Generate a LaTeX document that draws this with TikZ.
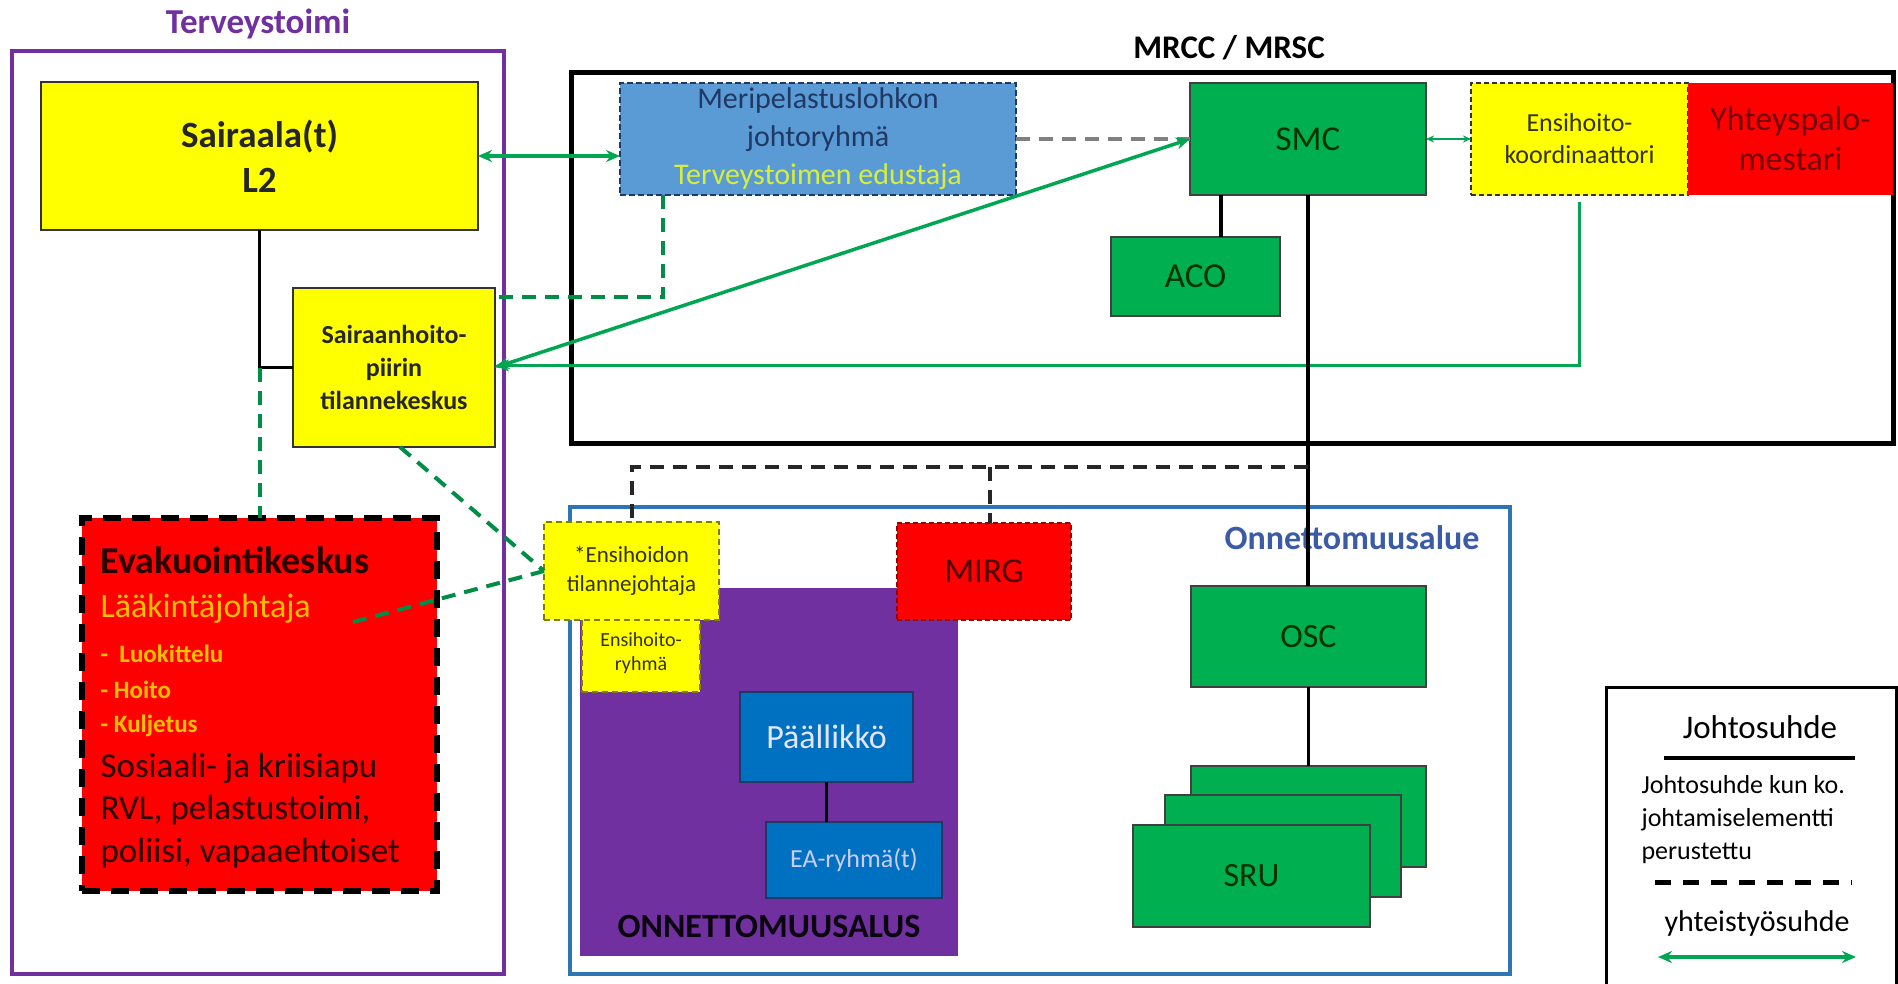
\documentclass[tikz,border=0pt]{standalone}
\usepackage{fontspec}
\setmainfont{Carlito}
\usetikzlibrary{arrows.meta,calc}
\definecolor{purp}{HTML}{7030A0}
\definecolor{yel}{HTML}{FFFF00}
\definecolor{grn}{HTML}{00B050}
\definecolor{gline}{HTML}{00A651}
\definecolor{rd}{HTML}{FF0000}
\definecolor{mblue}{HTML}{5B9BD5}
\definecolor{navy}{HTML}{1F3864}
\definecolor{tyel}{HTML}{D6EE3C}
\definecolor{dblue}{HTML}{0070C0}
\definecolor{oblue}{HTML}{2E75B6}
\definecolor{otext}{HTML}{3B5BA5}
\definecolor{orng}{HTML}{FFC000}
\definecolor{dred}{HTML}{2A0000}
\newcommand\fsz[2]{\fontsize{#1}{#2}\selectfont}
\begin{document}
\begin{tikzpicture}[x=1pt,y=-1pt,
  bx/.style 2 args={minimum width=#1pt, minimum height=#2pt, inner sep=0pt, outer sep=0pt, align=center},
  gbox/.style={fill=grn, draw=black!75, line width=2pt, text=black!80!green},
  ybox/.style={fill=yel, draw=black!80, line width=2pt},
  bluebox/.style={fill=dblue, draw=navy, line width=2pt},
  blk/.style={draw=black, line width=3.5pt},
  bdash/.style={draw=black!85, line width=4pt, dash pattern=on 14pt off 9pt},
  gdash/.style={draw=gline!85!black, line width=4pt, dash pattern=on 14pt off 9pt},
  garrow/.style={draw=gline, line width=3.5pt, arrows={Stealth[length=14pt,width=12pt]-Stealth[length=14pt,width=12pt]}},
  garrowend/.style={draw=gline, line width=3.5pt, arrows={-Stealth[length=14pt,width=12pt]}},
  gsmall/.style={draw=gline, line width=1.5pt, arrows={Stealth[length=8pt,width=7pt]-Stealth[length=8pt,width=7pt]}},
]
\useasboundingbox (0,0) rectangle (1898,984);
\clip (0,0) rectangle (1898,984);
\fill[white] (0,0) rectangle (1898,984);

% ---------- frames ----------
\node[bx={492}{923}, draw=purp, line width=4pt] (terv) at (258,512.5) {};
\node[font=\fsz{35}{38}\bfseries, text=purp] (tervt) at (258,24) {Terveystoimi};
\node[bx={1322}{370}, draw=black, line width=5pt] (mrcc) at (1232,258) {};
\node[font=\fsz{33}{36}\bfseries] (mrcct) at (1229,48) {MRCC / MRSC};
\node[bx={940}{467}, draw=oblue, line width=4pt] (onn) at (1040,740.5) {};
\node[font=\fsz{34}{38}\bfseries, text=otext] (onnt) at (1352,538) {Onnettomuusalue};
\node[bx={378}{368}, fill=purp] (alus) at (769,772) {};
\node[font=\fsz{34}{38}\bfseries, text=black!90!purp] (alust) at (769,926) {ONNETTOMUUSALUS};

% ---------- Terveystoimi ----------
\node[bx={437}{148}, ybox, font=\fsz{37}{45}\bfseries, text=black!85] (sair) at (259.5,156) {Sairaala(t)\\L2};
\node[bx={202}{159}, ybox, font=\fsz{26}{33}\bfseries, text=black!85] (shp) at (394,367.5) {Sairaanhoito-\\piirin\\tilannekeskus};
\node[bx={355}{373}, fill=rd, draw=black, line width=6pt, dash pattern=on 18pt off 11pt] (evak) at (259.5,704.5) {};
\node[anchor=base west, font=\fsz{38}{40}\bfseries, text=dred] (evt) at (97,573) {Evakuointikeskus};
\node[anchor=base west, font=\fsz{34}{36}, text=orng] (lj) at (97,617) {Lääkintäjohtaja};
\node[anchor=base west, font=\fsz{25}{28}\bfseries, text=orng] (b1) at (97,662) {-\ \ Luokittelu};
\node[anchor=base west, font=\fsz{25}{28}\bfseries, text=orng] (b2) at (97,698) {- Hoito};
\node[anchor=base west, font=\fsz{25}{28}\bfseries, text=orng] (b3) at (97,732) {- Kuljetus};
\node[anchor=base west, font=\fsz{35}{38}, text=dred] (s1) at (97,777) {Sosiaali- ja kriisiapu};
\node[anchor=base west, font=\fsz{35}{38}, text=dred] (s2) at (97,819) {RVL, pelastustoimi,};
\node[anchor=base west, font=\fsz{35}{38}, text=dred] (s3) at (97,862) {poliisi, vapaaehtoiset};

% ---------- MRCC ----------
\node[bx={396}{112}, fill=mblue, draw=navy, line width=2pt, dash pattern=on 6pt off 3pt, font=\fsz{30}{38}] (meri) at (818,139)
  {\textcolor{navy}{Meripelastuslohkon}\\\textcolor{navy}{johtoryhmä}\\\textcolor{tyel}{Terveystoimen edustaja}};
\node[bx={236}{112}, gbox, font=\fsz{35}{38}] (smc) at (1308,139) {SMC};
\node[bx={169}{79}, gbox, font=\fsz{35}{38}] (aco) at (1195.5,276.5) {ACO};
\node[bx={217}{112}, fill=yel, draw=black!80, line width=1.5pt, dash pattern=on 5pt off 3pt, font=\fsz{26}{32}, text=black!80!yel] (ensk) at (1579.5,139) {Ensihoito-\\koordinaattori};
\node[bx={205}{112}, fill=rd, font=\fsz{34}{40}, text=black!55!red] (yht) at (1790.5,139) {Yhteyspalo-\\mestari};

% ---------- Onnettomuusalue ----------
\node[bx={118}{78}, fill=yel, draw=black!50!yel, line width=2pt, dash pattern=on 6pt off 4pt, font=\fsz{20}{24}, text=black!80!yel] (ensr) at (641,653) {Ensihoito-\\ryhmä};
\node[bx={175}{98}, fill=yel, draw=black!50!yel, line width=2pt, dash pattern=on 6pt off 4pt, font=\fsz{23}{29}, text=black!80!yel] (enst) at (631.5,571) {*Ensihoidon\\tilannejohtaja};
\node[bx={174}{97}, fill=rd, draw=black!40!red, line width=1.5pt, dash pattern=on 5pt off 3pt, font=\fsz{35}{38}, text=black!70!red] (mirg) at (984,571.5) {MIRG};
\node[bx={173}{90}, bluebox, font=\fsz{34}{38}, text=blue!10] (pall) at (826.5,737) {Päällikkö};
\node[bx={176}{76}, bluebox, font=\fsz{26}{30}, text=blue!20] (ea) at (854,860) {EA-ryhmä(t)};
\node[bx={235}{101}, gbox, font=\fsz{34}{38}] (osc) at (1308.5,636.5) {OSC};
\node[bx={235}{101}, gbox] (sru3) at (1308.5,816.5) {};
\node[bx={236}{102}, gbox] (sru2) at (1283,846) {};
\node[bx={237}{102}, gbox, font=\fsz{34}{38}] (sru1) at (1251.5,876) {SRU};

% ---------- legend ----------
\node[bx={290}{320}, draw=black, line width=3pt] (leg) at (1751,847) {};
\node[font=\fsz{33}{36}] (lg1) at (1760,727) {Johtosuhde};
\coordinate (l1a) at (1664,758); \coordinate (l1b) at (1855,758);
\draw[blk, line width=4pt] (l1a) -- (l1b);
\node[anchor=west, align=left, font=\fsz{26}{33}] (lg2) at (1638,820) {Johtosuhde kun ko.\\johtamiselementti\\perustettu};
\coordinate (l2a) at (1655,882); \coordinate (l2b) at (1852,882);
\draw[draw=black, line width=5pt, dash pattern=on 16pt off 12pt] (l2a) -- (l2b);
\node[font=\fsz{30}{34}] (lg3) at (1757,923) {yhteistyösuhde};
\coordinate (l3a) at (1658,957); \coordinate (l3b) at (1856,957);
\draw[garrow] (l3a) -- (l3b);

% ---------- connectors ----------
\coordinate (j1) at (sair.south |- shp.west);
\draw[blk] (sair.south) -- (j1) -- (shp.west);
\draw[gdash] (j1) -- (j1 |- evak.north);
\draw[garrow] (sair.east) -- (sair.east -| meri.west);
\draw[draw=black!50, line width=4pt, dash pattern=on 14pt off 9pt] (meri.east) -- (smc.west);
\draw[gdash] ([xshift=43pt]meri.south west) |- ([yshift=70pt]shp.east);
\draw[garrow] (shp.east) -- (smc.west);
\draw[garrowend] ([yshift=-7pt]ensk.south) |- ([yshift=2pt]shp.east);
\draw[gsmall] (smc.east) -- (ensk.west);
\coordinate (sb) at ([xshift=-87pt]smc.south);
\draw[blk] (sb) -- (sb |- aco.north);
\draw[blk] (smc.south) -- (smc.south |- osc.north);
\draw[blk] (osc.south) -- (sru3.north);
\draw[blk] (pall.south) -- (pall.south |- ea.north);
\coordinate (dj) at (smc.south |- 0,467);
\draw[bdash] (dj) -| (enst.north);
\coordinate (mb) at ([xshift=6pt]mirg.north);
\draw[bdash] (dj -| mb) -- (mb);
\coordinate (lk) at (353,622);
\draw[gdash] ([xshift=6pt]shp.south) -- (enst.west);
\draw[gdash] (lk) -- (enst.west);
\end{tikzpicture}
\end{document}
